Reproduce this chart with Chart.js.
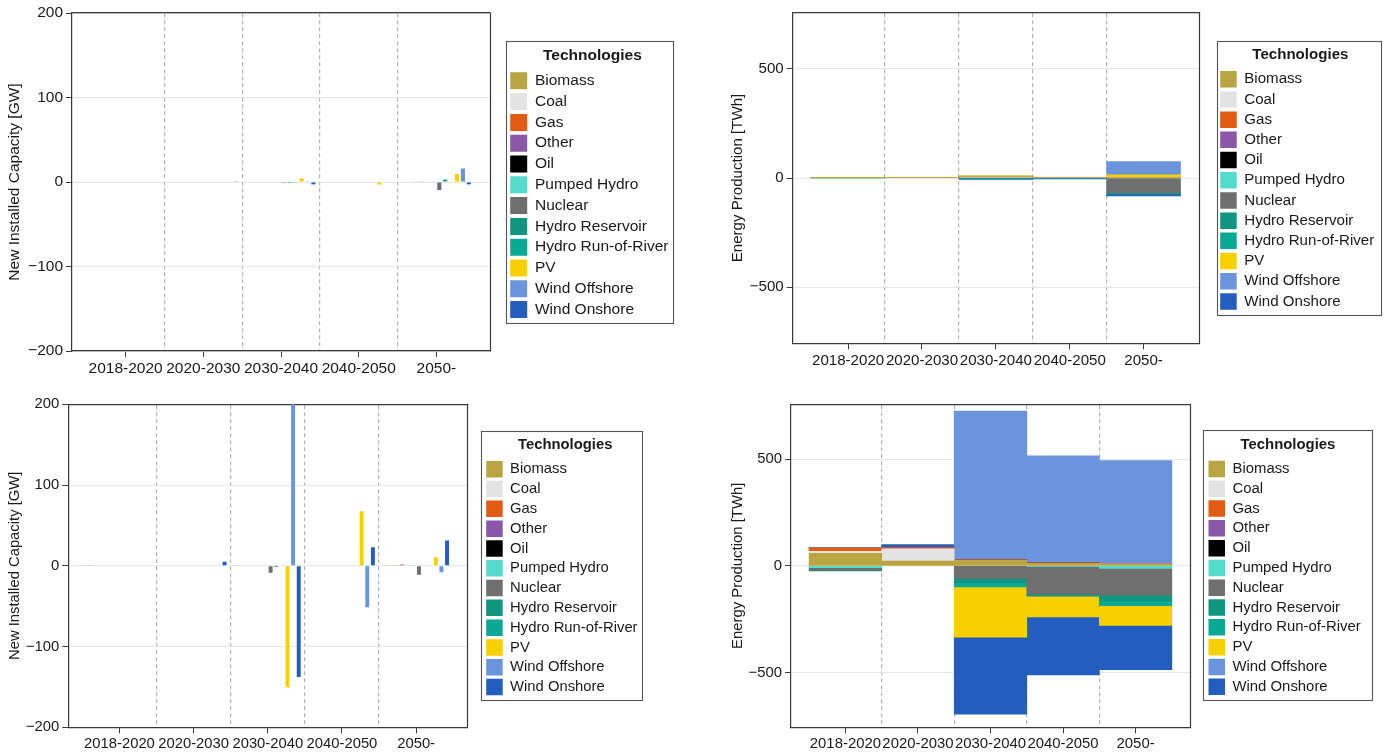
<!DOCTYPE html>
<html>
<head>
<meta charset="utf-8">
<title>Capacity and energy changes by technology</title>
<script src="https://cdn.jsdelivr.net/npm/chart.js@4.4.1/dist/chart.umd.min.js"></script>
<style>
  html, body { margin: 0; padding: 0; background: #ffffff; }
  body { width: 1391px; height: 754px; position: relative; overflow: hidden; }
  .panel { position: absolute; }
  .panel canvas { display: block; }
</style>
</head>
<body>
<div class="panel" id="capUpperPanel"></div>
<div class="panel" id="energyUpperPanel"></div>
<div class="panel" id="capLowerPanel"></div>
<div class="panel" id="energyLowerPanel"></div>
<script>
// ---------- categories ----------
const periods = ['2018-2020', '2020-2030', '2030-2040', '2040-2050', '2050-'];
const technologies = ['Biomass', 'Coal', 'Gas', 'Other', 'Oil', 'Pumped Hydro', 'Nuclear',
  'Hydro Reservoir', 'Hydro Run-of-River', 'PV', 'Wind Offshore', 'Wind Onshore'];
const techColors = ['#b9a542', '#e3e3e3', '#e35b10', '#8b57a7', '#000000', '#53dccb', '#6f6f6f',
  '#109581', '#0aa994', '#f7d000', '#6a95dc', '#235dbe'];

// ---------- axis ticks and limits ----------
const capTicks = [-200, -100, 0, 100, 200];
const capLimits = [-200, 200];
const energyTicks = [-500, 0, 500];
const energyLimits = [-757, 757];

// ---------- new installed capacity [GW], upper row ----------
const capUpperBiomass          = [0, 0, 0, 0, 0];
const capUpperCoal             = [0, 0, 0, 0, 0];
const capUpperGas              = [0, 0, 0, 0, -0.4];
const capUpperOther            = [0, 0, 0, 0, 0.3];
const capUpperOil              = [0, 0, 0, 0, 0];
const capUpperPumpedHydro      = [0, 0, 0, 0, 0.3];
const capUpperNuclear          = [0, 0, -1, 0, -9.5];
const capUpperHydroReservoir   = [0, 0, -1.2, 0, 2.8];
const capUpperHydroRunOfRiver  = [0, 0, -0.3, 0, 0];
const capUpperPV               = [0, 0, 4.3, -3, 9.5];
const capUpperWindOffshore     = [0, 0, 0.8, 0.6, 16];
const capUpperWindOnshore      = [0, 0.3, -2.8, 0, -2.8];

// ---------- energy production [TWh], upper row ----------
const energyUpperBiomass         = [0.5, 1, 6, 3, 3];
const energyUpperCoal            = [0.5, 0, 0, 0, 0];
const energyUpperGas             = [0, 2.5, 0, 0, 0];
const energyUpperOther           = [0, 0, 0, 0, 0];
const energyUpperOil             = [0, 0, 0, 0, 0];
const energyUpperPumpedHydro     = [-1.5, 0, 0, 0, 0];
const energyUpperNuclear         = [0, 0, 0, 0, -67];
const energyUpperHydroReservoir  = [0, 0, -3, -3, -7];
const energyUpperHydroRunOfRiver = [0, 0, 0, 0, 0];
const energyUpperPV              = [0, 0, 4, 0, 12];
const energyUpperWindOffshore    = [0, 0, 0, 0, 60];
const energyUpperWindOnshore     = [0, 0, -4, -1.5, -8];

// ---------- new installed capacity [GW], lower row ----------
const capLowerBiomass          = [0.5, 0, 0.4, 0, 0.4];
const capLowerCoal             = [0, 0, 0, 0, 0];
const capLowerGas              = [0, 0, 0, 0, 0.4];
const capLowerOther            = [0, 0, 0, 0, 1.5];
const capLowerOil              = [0, 0, 0, 0, 0];
const capLowerPumpedHydro      = [0, 0, 0, 0, 0.3];
const capLowerNuclear          = [0, 0, -8.7, 0, -11.2];
const capLowerHydroReservoir   = [0, 0, -1.5, 0, -0.5];
const capLowerHydroRunOfRiver  = [0, 0, 0, 0, 0];
const capLowerPV               = [0, 0, -150.4, 67.4, 10.7];
const capLowerWindOffshore     = [0, 0, 210, -51.2, -7.9];
const capLowerWindOnshore      = [0, 5, -137.6, 23.1, 31.4];

// ---------- energy production [TWh], lower row ----------
const energyLowerBiomass         = [59, 22, 25, 11, 8];
const energyLowerCoal            = [9, 58, 0, 0, 0];
const energyLowerGas             = [15, 5, 3, 3, 1];
const energyLowerOther           = [0, 0, 0, 0, 3];
const energyLowerOil             = [0, 0, 0, 0, 0];
const energyLowerPumpedHydro     = [-9, 0, 0, -3, -12];
const energyLowerNuclear         = [-11, 0, -59, -130, -125];
const energyLowerHydroReservoir  = [-4, 0, -20, -9, -28];
const energyLowerHydroRunOfRiver = [0, 0, -20, 0, -22];
const energyLowerPV              = [0, 0, -236, -98, -92];
const energyLowerWindOffshore    = [0, 0, 697, 502, 481];
const energyLowerWindOnshore     = [0, 14, -361, -272, -208];

// ---------- series tables (one row per technology) ----------
const capUpper = [capUpperBiomass, capUpperCoal, capUpperGas, capUpperOther, capUpperOil,
  capUpperPumpedHydro, capUpperNuclear, capUpperHydroReservoir, capUpperHydroRunOfRiver,
  capUpperPV, capUpperWindOffshore, capUpperWindOnshore];
const energyUpper = [energyUpperBiomass, energyUpperCoal, energyUpperGas, energyUpperOther, energyUpperOil,
  energyUpperPumpedHydro, energyUpperNuclear, energyUpperHydroReservoir, energyUpperHydroRunOfRiver,
  energyUpperPV, energyUpperWindOffshore, energyUpperWindOnshore];
const capLower = [capLowerBiomass, capLowerCoal, capLowerGas, capLowerOther, capLowerOil,
  capLowerPumpedHydro, capLowerNuclear, capLowerHydroReservoir, capLowerHydroRunOfRiver,
  capLowerPV, capLowerWindOffshore, capLowerWindOnshore];
const energyLower = [energyLowerBiomass, energyLowerCoal, energyLowerGas, energyLowerOther, energyLowerOil,
  energyLowerPumpedHydro, energyLowerNuclear, energyLowerHydroReservoir, energyLowerHydroRunOfRiver,
  energyLowerPV, energyLowerWindOffshore, energyLowerWindOnshore];

// ---------- styling ----------
const FONT = '"Liberation Sans", Arial, Helvetica, sans-serif';
const TEXT = '#1a1a1a';
const AXIS = '#3a3a3a';
const GRID = '#e6e6e6';
const SEP = '#b4b4b4';
const CLEAR = 'rgba(0,0,0,0)';
const X_AXIS_H = 24;

// Panel geometry in page pixels
const panels = [
  { el: 'capUpperPanel', rows: capUpper, kind: 'cap', yTitle: 'New Installed Capacity [GW]',
    left: 0, top: 0, width: 690, height: 390,
    area: { l: 72, r: 490, t: 13, b: 351 }, titleX: 15, font: 15.5,
    box: 17, pitch: 20.8, swatchX: 510.2, swatchY: 72.3, legendTitleY: 55.7,
    frame: { top: 31.3, bottom: 5.2, left: 4.2, right: 4.5 }, xPad: 0.19 },
  { el: 'energyUpperPanel', rows: energyUpper, kind: 'energy', yTitle: 'Energy Production [TWh]',
    left: 700, top: 0, width: 691, height: 390,
    area: { l: 792.7, r: 1199, t: 12.7, b: 343.3 }, titleX: 738, font: 15.1,
    box: 16.5, pitch: 20.2, swatchX: 1220.2, swatchY: 71, legendTitleY: 55,
    frame: { top: 30.3, bottom: 5.2, left: 3.5, right: 6.5 }, xPad: 0.25 },
  { el: 'capLowerPanel', rows: capLower, kind: 'cap', yTitle: 'New Installed Capacity [GW]',
    left: 0, top: 392, width: 690, height: 362,
    area: { l: 68.3, r: 467.3, t: 404.3, b: 727.3 }, titleX: 15, font: 14.8,
    box: 16.5, pitch: 19.8, swatchX: 486.2, swatchY: 461, legendTitleY: 445,
    frame: { top: 30.3, bottom: 4.7, left: 5.2, right: 4.5 }, xPad: 0.19 },
  { el: 'energyLowerPanel', rows: energyLower, kind: 'energy', yTitle: 'Energy Production [TWh]',
    left: 700, top: 392, width: 691, height: 362,
    area: { l: 791, r: 1190, t: 404.3, b: 727.3 }, titleX: 738, font: 14.9,
    box: 16.5, pitch: 19.8, swatchX: 1208.5, swatchY: 460.7, legendTitleY: 445,
    frame: { top: 30.7, bottom: 4.7, left: 5.2, right: 11.5 }, xPad: 0.25 }
];

// Box drawn around the legend, sized from the legend's own hit boxes
const legendFrame = {
  id: 'legendFrame',
  afterDraw(chart, args, opts) {
    const hb = chart.legend && chart.legend.legendHitBoxes;
    if (!hb || !hb.length) return;
    const first = hb[0], last = hb[hb.length - 1];
    const right = Math.max(...hb.map(h => h.left + h.width));
    const x0 = Math.round(first.left - opts.left) + 0.5;
    const x1 = Math.round(right + opts.right) + 0.5;
    const y0 = Math.round(first.top - opts.top) + 0.5;
    const y1 = Math.round(last.top + last.height + opts.bottom) + 0.5;
    const ctx = chart.ctx;
    ctx.save();
    ctx.strokeStyle = opts.color;
    ctx.lineWidth = 1.1;
    ctx.strokeRect(x0, y0, x1 - x0, y1 - y0);
    ctx.restore();
  }
};

// Right-hand edge of the plot frame, along the chart area
const rightEdge = {
  id: 'rightEdge',
  afterDatasetsDraw(chart, args, opts) {
    const a = chart.chartArea;
    const x = Math.round(a.right) + 0.5;
    const ctx = chart.ctx;
    ctx.save();
    ctx.strokeStyle = opts.color;
    ctx.lineWidth = 1.2;
    ctx.beginPath();
    ctx.moveTo(x, a.top - 0.6);
    ctx.lineTo(x, a.bottom + 0.6);
    ctx.stroke();
    ctx.restore();
  }
};

function buildPanel(p) {
  const wrap = document.getElementById(p.el);
  Object.assign(wrap.style, { left: p.left + 'px', top: p.top + 'px', width: p.width + 'px', height: p.height + 'px' });
  const canvas = document.createElement('canvas');
  canvas.width = p.width; canvas.height = p.height;
  canvas.style.width = p.width + 'px'; canvas.style.height = p.height + 'px';
  wrap.appendChild(canvas);

  const f = p.font;
  const lh = f * 1.2;
  const pad = p.pitch - p.box;

  // legend width as Chart.js computes it for a single column
  const m = document.createElement('canvas').getContext('2d');
  m.font = f + 'px ' + FONT;
  const textW = Math.max(...technologies.map(t => m.measureText(t).width));
  const legendW = pad + p.box + f / 2 + textW + 10;
  const legendLeft = p.swatchX - pad;
  const gap = legendLeft - p.area.r;
  const padRight = (p.left + p.width) - legendLeft - legendW;
  const padBottom = (p.top + p.height) - p.area.b - X_AXIS_H;

  // legend title block placement
  const colH = technologies.length * p.pitch;
  const titleH = 2 * p.swatchY - p.area.t - p.area.b + colH - pad;
  const blockTop = p.swatchY - titleH - pad;
  const tPadTop = p.legendTitleY - blockTop - f / 2;
  const tPadBottom = titleH - lh - tPadTop;

  const stacked = p.kind === 'energy';
  const ticks = stacked ? energyTicks : capTicks;
  const limits = stacked ? energyLimits : capLimits;
  const xMin = -0.5 - p.xPad, xMax = periods.length - 0.5 + p.xPad;

  const datasets = technologies.map((name, i) => ({
    label: name,
    data: p.rows[i].map((v, j) => ({ x: j, y: v })),
    backgroundColor: techColors[i],
    borderColor: techColors[i],
    borderWidth: 0,
    clip: 0,
    xAxisID: 'x',
    yAxisID: 'y',
    stack: stacked ? 'energy' : undefined,
    categoryPercentage: stacked ? 1.0 : 0.91,
    barPercentage: stacked ? 1.0 : 0.7
  }));

  const font = { family: FONT, size: f };
  const onPeriod = c => (c.tick && Number.isInteger(c.tick.value) && c.tick.value >= 0 && c.tick.value < periods.length);

  return new Chart(canvas, {
    type: 'bar',
    data: { datasets },
    plugins: [legendFrame, rightEdge],
    options: {
      responsive: false,
      animation: false,
      devicePixelRatio: 1,
      layout: { padding: { top: p.area.t - p.top, left: 0, right: padRight, bottom: padBottom } },
      scales: {
        x: {
          type: 'linear', position: 'bottom', min: xMin, max: xMax, stacked, offset: false,
          afterBuildTicks: s => { s.ticks = periods.map((_, i) => ({ value: i })); },
          afterFit: s => { s.height = X_AXIS_H; },
          ticks: { callback: v => periods[v] ?? '', font, color: TEXT, padding: 2,
                   autoSkip: false, maxRotation: 0, minRotation: 0 },
          grid: { offset: false, drawOnChartArea: false, drawTicks: true, tickLength: 6,
                  tickColor: c => (onPeriod(c) ? AXIS : CLEAR), color: CLEAR },
          border: { display: true, color: AXIS, width: 1.2 }
        },
        xSep: {
          type: 'linear', position: 'top', min: xMin, max: xMax, offset: false,
          afterBuildTicks: s => { s.ticks = periods.slice(1).map((_, i) => ({ value: i + 0.5 })); },
          afterFit: s => { s.height = 0; },
          ticks: { display: false },
          grid: { offset: false, drawOnChartArea: true, drawTicks: false, color: SEP, lineWidth: 1.2 },
          border: { display: true, color: AXIS, width: 1.2, dash: [4, 3] }
        },
        y: {
          type: 'linear', position: 'left', min: limits[0], max: limits[1], stacked,
          afterBuildTicks: s => { s.ticks = ticks.map(v => ({ value: v })); },
          afterFit: s => { s.width = p.area.l - p.left; },
          ticks: { callback: v => String(v).replace('-', '\u2212'), font, color: TEXT, padding: 3 },
          grid: { color: GRID, lineWidth: 1, drawTicks: true, tickLength: 6, tickColor: AXIS },
          border: { display: true, color: AXIS, width: 1.2 },
          title: { display: true, text: p.yTitle, font, color: TEXT,
                   padding: { top: p.titleX - p.left - lh / 2, bottom: 0 } }
        },
        yGap: {
          type: 'linear', position: 'right', min: limits[0], max: limits[1],
          afterFit: s => { s.width = gap; },
          ticks: { display: false },
          grid: { display: false, drawOnChartArea: false, drawTicks: false },
          border: { display: false }
        }
      },
      plugins: {
        tooltip: { enabled: false },
        legend: {
          display: true,
          position: 'right',
          fullSize: false,
          maxWidth: 400,
          title: { display: true, text: 'Technologies', color: TEXT,
                   font: { family: FONT, size: f, weight: 'bold' },
                   padding: { top: tPadTop, bottom: tPadBottom } },
          labels: { boxWidth: p.box, boxHeight: p.box, padding: pad, color: TEXT, font }
        },
        legendFrame: { color: '#555555', top: p.frame.top, bottom: p.frame.bottom,
                       left: p.frame.left, right: p.frame.right },
        rightEdge: { color: AXIS }
      }
    }
  });
}

panels.forEach(buildPanel);
</script>
</body>
</html>
